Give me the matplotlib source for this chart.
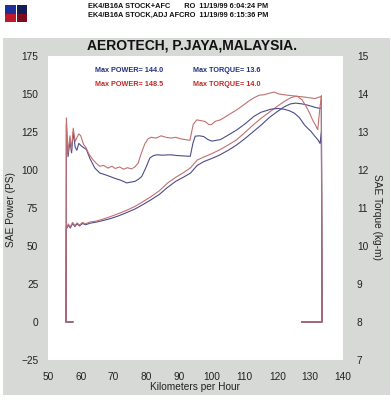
import matplotlib
matplotlib.use("Agg")
import matplotlib.pyplot as plt
from matplotlib.patches import Rectangle

# ---------------- data ----------------
header_lines = ["EK4/B16A STOCK+AFC       RO  11/19/99 6:04:24 PM",
                "EK4/B16A STOCK,ADJ AFCRO  11/19/99 6:15:36 PM"]
title = "AEROTECH, P.JAYA,MALAYSIA."
max_labels_blue = ["Max POWER= 144.0", "Max TORQUE= 13.6"]
max_labels_red = ["Max POWER= 148.5", "Max TORQUE= 14.0"]

xticks = [50, 60, 70, 80, 90, 100, 110, 120, 130, 140]
power_ticks = [-25, 0, 25, 50, 75, 100, 125, 150, 175]
torque_ticks = [7, 8, 9, 10, 11, 12, 13, 14, 15]

speed_red_power = [57.6, 55.5, 55.6, 56.2, 56.8, 57.5, 58.2, 58.9, 59.6, 60.5, 61.5, 62.8, 64.5,
                   66.5, 69.0, 71.5, 74.0, 76.5, 79.0, 81.5, 84.0, 86.5, 89.0, 91.5, 93.5,
                   95.5, 97.5, 100.0, 102.5, 105.0, 107.5, 110.0, 112.5, 115.0, 117.5, 120.0,
                   122.0, 124.0, 125.5, 127.5, 129.5, 131.5, 132.8, 133.4, 133.6, 127.4]
red_power = [0, 0, 61.8, 64.5, 62.5, 65.5, 63.5, 65.2, 63.8, 65.5, 64.6, 65.8, 66.3,
             67.5, 69.3, 71.3, 73.5, 76.0, 79.2, 82.6, 86.4, 91.5, 95.2, 98.5, 101.5,
             106.5, 108.5, 110.8, 113.4, 116.5, 119.8, 124.5, 129.5, 134.0, 138.0, 142.0,
             145.0, 147.5, 148.5, 148.2, 147.6, 147.0, 148.0, 148.5, 0, 0]

speed_blue_power = [57.6, 55.5, 55.6, 56.2, 56.8, 57.5, 58.2, 58.9, 59.6, 60.5, 61.5, 62.8, 64.5,
                    66.5, 69.0, 71.5, 74.0, 76.5, 79.0, 81.5, 84.0, 86.5, 89.0, 91.5, 93.5,
                    95.5, 97.5, 100.0, 102.5, 105.0, 107.5, 110.0, 112.5, 115.0, 117.5, 120.0,
                    122.0, 124.0, 125.5, 127.5, 129.5, 131.5, 133.0, 133.4, 133.6, 127.4]
blue_power = [0, 0, 61.0, 63.8, 61.8, 64.8, 62.8, 64.6, 63.2, 64.8, 64.0, 65.0, 65.6,
              66.6, 68.0, 69.8, 72.0, 74.3, 77.3, 80.5, 84.0, 88.6, 92.6, 95.5, 98.0,
              103.0, 105.5, 107.6, 110.0, 113.0, 116.4, 120.5, 125.0, 129.5, 134.5, 138.5,
              141.5, 143.5, 144.0, 143.5, 142.5, 141.2, 140.5, 141.0, 0, 0]

speed_red_torque = [57.6, 55.5, 55.6, 56.1, 56.7, 57.2, 57.7, 58.3, 58.8, 59.4, 60.0, 60.8, 61.5,
                    62.5, 63.7, 64.8, 65.8, 67.0, 68.3, 69.5, 70.5, 71.9, 73.0, 74.2, 75.5,
                    76.5, 77.5, 78.5, 79.5, 80.5, 81.5, 83.0, 84.5, 86.0, 87.5, 89.0, 90.5,
                    92.0, 93.3, 94.3, 95.4, 96.5, 97.9, 99.0, 99.8, 101.0, 102.6, 104.5, 106.0,
                    107.7, 109.5, 111.0, 112.8, 114.5, 115.9, 117.5, 119.0, 120.5, 122.0, 124.0,
                    126.1, 127.5, 128.7, 129.8, 130.7, 131.6, 132.3, 132.9, 133.4, 133.6, 127.4]
red_torque = [8, 8, 13.37, 12.45, 12.9, 12.55, 13.1, 12.75, 12.85, 12.95, 12.9, 12.68, 12.6,
              12.42, 12.27, 12.17, 12.1, 12.12, 12.05, 12.1, 12.04, 12.08, 12.02, 12.06, 12.03,
              12.08, 12.18, 12.45, 12.68, 12.82, 12.86, 12.84, 12.9, 12.86, 12.84, 12.86, 12.82,
              12.8, 12.78, 13.2, 13.32, 13.3, 13.28, 13.2, 13.19, 13.28, 13.32, 13.42, 13.5,
              13.59, 13.7, 13.8, 13.9, 13.97, 13.98, 14.02, 14.05, 14.0, 13.98, 13.96,
              13.94, 13.85, 13.68, 13.5, 13.32, 13.18, 13.06, 13.6, 13.96, 8, 8]

speed_blue_torque = [57.6, 55.5, 55.6, 56.1, 56.7, 57.2, 57.7, 58.3, 58.8, 59.4, 60.2, 61.0, 61.7,
                     62.8, 64.3, 65.8, 67.3, 68.9, 70.4, 71.9, 73.0, 74.0, 75.2, 76.5, 77.5,
                     78.6, 79.8, 81.1, 82.2, 83.2, 85.0, 87.3, 89.5, 91.5, 93.4, 94.2, 94.9,
                     96.2, 97.5, 98.8, 100.0, 101.3, 102.6, 105.0, 107.7, 110.2, 112.8, 115.0,
                     118.0, 120.0, 122.0, 123.6, 125.1, 126.7, 128.2, 129.2, 130.2, 131.3, 132.3,
                     133.0, 133.4, 133.6, 127.4]
blue_torque = [8, 8, 13.2, 12.35, 12.75, 12.45, 13.0, 12.6, 12.52, 12.7, 12.63, 12.58, 12.54,
               12.3, 12.05, 11.92, 11.88, 11.83, 11.78, 11.74, 11.7, 11.66, 11.68, 11.7, 11.75,
               11.83, 12.05, 12.32, 12.38, 12.4, 12.39, 12.4, 12.38, 12.37, 12.36, 12.7, 12.89,
               12.9, 12.88, 12.8, 12.76, 12.78, 12.8, 12.92, 13.06, 13.22, 13.41, 13.52,
               13.6, 13.62, 13.6, 13.56, 13.5, 13.38, 13.19, 13.1, 13.02, 12.9, 12.8,
               12.7, 13.0, 8, 8]

# ---------------- styling ----------------
BLUE_LINE = "#4c4c8a"
RED_LINE = "#c27070"
BLUE_TXT = "#22307e"
RED_TXT = "#c02828"
PANEL = "#d6d9d6"
W, H = 391, 400

fig = plt.figure(figsize=(W / 100, H / 100), dpi=100)
fig.patch.set_facecolor("white")
fig.patches.append(Rectangle((3 / W, 1 - 395 / H), 387 / W, 357 / H,
                             transform=fig.transFigure, facecolor=PANEL,
                             edgecolor="none", zorder=0))

# logo
for (x0, y0, w, h, c) in [(5, 5, 10.5, 8.5, "#1f2f9a"), (5, 13.5, 10.5, 8.5, "#c01828"),
                          (16.5, 5, 10.5, 8.5, "#141d55"), (16.5, 13.5, 10.5, 8.5, "#7a0c1c")]:
    fig.patches.append(Rectangle((x0 / W, 1 - (y0 + h) / H), w / W, h / H,
                                 transform=fig.transFigure, facecolor=c,
                                 edgecolor="none", zorder=1))

fig.text(88 / W, 1 - 7 / H, header_lines[0], fontsize=5.3, fontweight="bold",
         family="Liberation Sans", va="center", ha="left", color="#111111")
fig.text(88 / W, 1 - 15 / H, header_lines[1], fontsize=5.3, fontweight="bold",
         family="Liberation Sans", va="center", ha="left", color="#111111")

left, right, top, bottom = 48, 343, 56, 360
ax = fig.add_axes([left / W, 1 - bottom / H, (right - left) / W, (bottom - top) / H])
ax.set_facecolor("white")
ax.set_zorder(2)
ax.set_xlim(50, 140)
ax.set_ylim(-25, 175)
ax.set_xticks(xticks)
ax.set_yticks(power_ticks)
for s in ax.spines.values():
    s.set_visible(False)
ax.tick_params(length=0, labelsize=7.3, colors="#222222")
ax.tick_params(axis="y", pad=7)
ax.tick_params(axis="x", pad=9)
for lab in ax.get_xticklabels() + ax.get_yticklabels():
    lab.set_family("Liberation Sans")

ax2 = ax.twinx()
ax2.set_ylim(7, 15)
ax2.set_yticks(torque_ticks)
for s in ax2.spines.values():
    s.set_visible(False)
ax2.tick_params(length=0, labelsize=7.3, colors="#222222", pad=10)
for lab in ax2.get_yticklabels():
    lab.set_family("Liberation Sans")

ax.plot(speed_blue_power, blue_power, color=BLUE_LINE, lw=0.8)
ax.plot(speed_red_power, red_power, color=RED_LINE, lw=0.8)
ax2.plot(speed_blue_torque, blue_torque, color=BLUE_LINE, lw=0.8)
ax2.plot(speed_red_torque, red_torque, color=RED_LINE, lw=0.8)

fig.text(192 / W, 1 - 46 / H, title, fontsize=10.0, fontweight="bold",
         family="Liberation Sans", ha="center", va="center", color="#111111", zorder=5)
fig.text(95 / W, 1 - 71 / H, max_labels_blue[0], fontsize=5.2, fontweight="bold",
         family="Liberation Sans", color=BLUE_TXT, va="center", zorder=5)
fig.text(193 / W, 1 - 71 / H, max_labels_blue[1], fontsize=5.2, fontweight="bold",
         family="Liberation Sans", color=BLUE_TXT, va="center", zorder=5)
fig.text(95 / W, 1 - 85 / H, max_labels_red[0], fontsize=5.2, fontweight="bold",
         family="Liberation Sans", color=RED_TXT, va="center", zorder=5)
fig.text(193 / W, 1 - 85 / H, max_labels_red[1], fontsize=5.2, fontweight="bold",
         family="Liberation Sans", color=RED_TXT, va="center", zorder=5)

fig.text(195 / W, 1 - 387 / H, "Kilometers per Hour", fontsize=7.3,
         family="Liberation Sans", ha="center", va="center", color="#222222")
fig.text(11 / W, 1 - 210 / H, "SAE Power (PS)", fontsize=7.3, rotation=90,
         family="Liberation Sans", ha="center", va="center", color="#222222")
fig.text(377 / W, 1 - 217 / H, "SAE Torque (kg-m)", fontsize=7.3, rotation=-90,
         family="Liberation Sans", ha="center", va="center", color="#222222")

fig.savefig("out.png", dpi=100)
